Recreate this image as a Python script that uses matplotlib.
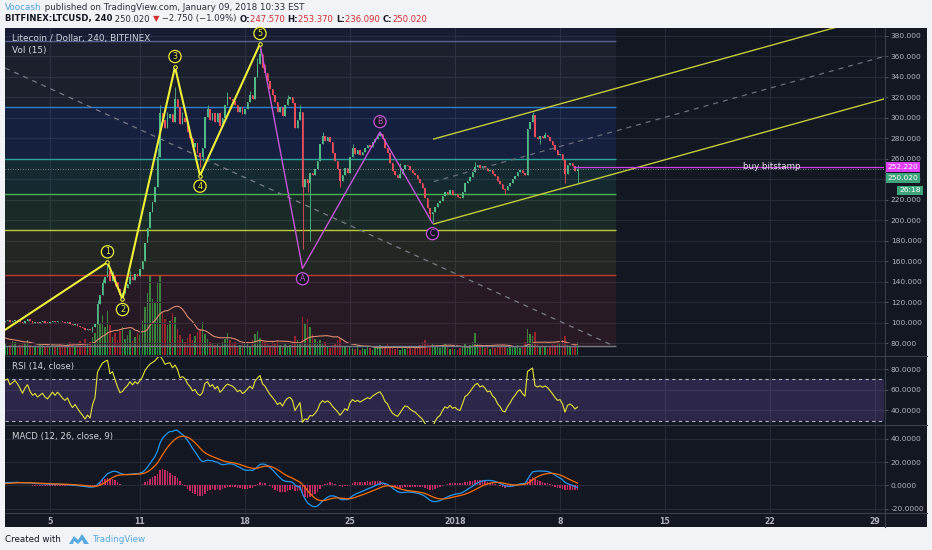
import numpy as np
import pandas as pd
import matplotlib
matplotlib.use("Agg")
import matplotlib.pyplot as plt
import matplotlib.dates as mdates
import matplotlib.transforms as mtransforms
from matplotlib.patches import Rectangle, Polygon
from matplotlib.lines import Line2D
from matplotlib.ticker import FixedLocator, FixedFormatter

W, H = 932, 550
BG = "#131722"
GRID = "#262b3a"
SEP = "#3a3e4a"
TXT = "#b2b5be"
UP = "#53b987"
DOWN = "#eb4d5c"
YEL = "#eef03a"
PURP = "#c455d6"

# =========================
# Data (4h candles, BITFINEX:LTCUSD)
# =========================

START = pd.Timestamp("2017-12-02 00:00")

# history before the visible window, only used to warm up the indicators
warmup_close = [
    88.0, 89.0, 87.5, 88.6, 90.2, 89.5,
    90.8, 92.1, 91.4, 93.0, 92.2, 93.8,
    95.1, 94.2, 96.0, 97.5, 96.3, 98.0,
    99.5, 97.2, 93.0, 88.5, 90.4, 92.0,
    90.6, 92.8, 94.0, 93.1, 95.5, 96.2,
    97.0, 98.4, 97.6, 99.1, 100.3, 100.9,
]
warmup_volume = [
    18, 15, 20, 14, 22, 16, 19, 17, 24, 15, 18, 21,
    20, 16, 22, 26, 18, 19, 28, 25, 35, 30, 22, 19,
    17, 20, 15, 18, 22, 16, 14, 18, 15, 19, 17, 13,
]

close_4h = [
    101.5, 102.3, 100.8, 101.9, 103.0, 102.2,   # Dec 2
    101.0, 99.6, 101.8, 103.4, 101.5, 100.2,    # Dec 3
    100.9, 99.8, 100.5, 101.2, 100.1, 99.5,     # Dec 4
    100.6, 101.8, 100.9, 102.0, 101.3, 100.4,   # Dec 5
    99.8, 100.5, 98.9, 97.6, 98.4, 97.2,        # Dec 6
    95.8, 94.6, 92.9, 93.8, 92.5, 96.0,         # Dec 7
    98.5, 118.0, 127.0, 139.0, 145.0, 150.0,    # Dec 8
    141.0, 146.0, 140.0, 133.0, 127.0, 129.0,   # Dec 9
    134.0, 138.0, 145.0, 142.0, 148.0, 146.0,   # Dec 10
    152.0, 160.0, 178.0, 192.0, 208.0, 218.0,   # Dec 11
    232.0, 262.0, 305.0, 298.0, 290.0, 300.0,   # Dec 12
    304.0, 296.0, 318.0, 310.0, 294.0, 300.0,   # Dec 13
    296.0, 286.0, 280.0, 271.0, 275.0, 266.0,   # Dec 14
    262.0, 270.0, 301.0, 308.0, 298.0, 305.0,   # Dec 15
    296.0, 305.0, 292.0, 300.0, 312.0, 320.0,   # Dec 16
    318.0, 316.0, 312.0, 306.0, 310.0, 304.0,   # Dec 17
    308.0, 315.0, 322.0, 318.0, 340.0, 352.0,   # Dec 18
    362.0, 348.0, 344.0, 336.0, 328.0, 322.0,   # Dec 19
    315.0, 306.0, 310.0, 302.0, 312.0, 318.0,   # Dec 20
    320.0, 314.0, 290.0, 298.0, 306.0, 232.0,   # Dec 21
    240.0, 236.0, 246.0, 244.0, 250.0, 258.0,   # Dec 22
    274.0, 282.0, 277.0, 281.0, 276.0, 266.0,   # Dec 23
    258.0, 250.0, 238.0, 244.0, 251.0, 246.0,   # Dec 24
    262.0, 270.0, 265.0, 268.0, 264.0, 267.0,   # Dec 25
    270.0, 273.0, 271.0, 276.0, 279.0, 282.0,   # Dec 26
    284.0, 279.0, 270.0, 266.0, 256.0, 248.0,   # Dec 27
    244.0, 241.0, 245.0, 250.0, 254.0, 253.0,   # Dec 28
    249.0, 246.0, 244.0, 240.0, 236.0, 231.0,   # Dec 29
    222.0, 212.0, 206.0, 208.0, 213.0, 217.0,   # Dec 30
    219.0, 224.0, 228.0, 226.0, 229.0, 225.0,   # Dec 31
    226.0, 223.0, 222.0, 228.0, 236.0, 238.0,   # Jan 1
    242.0, 247.0, 252.0, 254.0, 251.0, 253.0,   # Jan 2
    251.0, 248.0, 249.0, 245.0, 243.0, 238.0,   # Jan 3
    235.0, 230.0, 229.0, 233.0, 236.0, 240.0,   # Jan 4
    243.0, 247.0, 249.0, 246.0, 244.0, 289.0,   # Jan 5
    296.0, 303.0, 281.0, 279.0, 282.0, 280.0,   # Jan 6
    283.0, 281.0, 277.0, 273.0, 268.0, 264.0,   # Jan 7
    265.0, 259.0, 245.0, 254.0, 256.0, 253.0,   # Jan 8
    247.57, 250.02,                             # Jan 9
]

volume_4h = [
    12, 9, 10, 14, 13, 9,
    10, 12, 11, 15, 10, 8,
    9, 8, 11, 10, 8, 11,
    9, 12, 8, 10, 11, 8,
    10, 11, 13, 12, 9, 11,
    14, 12, 16, 11, 13, 18,
    22, 48, 32, 40, 28, 44,
    30, 18, 22, 15, 24, 28,
    16, 20, 25, 14, 18, 22,
    20, 34, 48, 62, 80, 56,
    52, 72, 80, 42, 36, 30,
    34, 42, 38, 26, 20, 16,
    13, 17, 21, 15, 19, 23,
    26, 33, 21, 16, 13, 11,
    10, 12, 9, 13, 16, 22,
    15, 11, 13, 9, 10, 12,
    11, 13, 9, 15, 21, 24,
    17, 15, 13, 11, 10, 13,
    11, 15, 10, 9, 12, 8,
    10, 13, 19, 15, 11, 38,
    31, 36, 28, 21, 16, 13,
    15, 11, 13, 9, 7, 10,
    12, 15, 17, 9, 8, 7,
    9, 7, 6, 8, 5, 7,
    6, 8, 7, 5, 7, 9,
    10, 8, 9, 11, 7, 8,
    6, 7, 5, 8, 6, 7,
    7, 6, 9, 8, 10, 13,
    15, 12, 10, 11, 9, 8,
    7, 10, 11, 8, 6, 7,
    6, 5, 7, 9, 11, 8,
    10, 13, 22, 12, 9, 8,
    7, 8, 6, 9, 7, 10,
    9, 11, 8, 7, 10, 9,
    8, 10, 7, 9, 13, 26,
    21, 19, 23, 11, 9, 10,
    8, 7, 9, 11, 10, 13,
    11, 15, 19, 10, 9, 8,
    12, 13,
]

# notable wicks beyond the candle bodies (candle index -> price)
wick_hi = {37: 122, 39: 143, 41: 157, 43: 150, 50: 150, 61: 270, 62: 312,
           65: 306, 68: 330, 71: 306, 81: 312, 89: 325, 98: 326, 101: 358,
           102: 368, 104: 352, 113: 322, 118: 312, 127: 286, 139: 274,
           150: 286, 158: 256, 188: 257, 211: 306, 216: 286, 229: 253.37}
wick_lo = {35: 91, 44: 136, 47: 124, 57: 185, 78: 252, 79: 258, 119: 172,
           121: 228, 122: 180, 134: 232, 170: 200, 171: 198, 200: 226,
           214: 274, 224: 236, 229: 236.09}

# drawings
wave_idx = [0, 41, 47, 68, 78, 102]
wave_px = [93, 159, 123, 349.5, 243.4, 372]
wave_lbl = ["", "1", "2", "3", "4", "5"]
abc_idx = [102, 119, 150, 171]
abc_px = [372, 153, 286, 197]
abc_lbl = ["", "A", "B", "C"]

fib_levels = [400.0, 374.5, 310.4, 260.0, 225.3, 190.1, 146.8, 77.4]
fib_line_colors = [None, "#56628f", "#2f7ec9", "#2aa39a", "#4caf50", "#bfc93a", "#c0392b", "#787b86"]
fib_band_colors = ["#3a46a8", "#5a6478", "#2962ff", "#26a69a", "#4caf50", "#8a9a30", "#b03040"]
fib_end = "2018-01-11 17:30"

trend_t = ["2017-12-02 00:00", "2018-01-11 16:00"]
trend_px = [348.5, 76.8]

chan_t = ["2017-12-30 14:00", "2018-01-29 14:00"]
chan_upper = [279.2, 401.1]
chan_lower = [196.3, 318.2]

buy_price = 252.22
buy_start = "2018-01-08 21:00"
buy_text_t = "2018-01-22 03:00"
last_price = 250.02

xtick_dates = ["2017-12-05", "2017-12-11", "2017-12-18", "2017-12-25", "2018-01-01",
               "2018-01-08", "2018-01-15", "2018-01-22", "2018-01-29"]
xtick_labels = ["5", "11", "18", "25", "2018", "8", "15", "22", "29"]
x_left = "2017-12-02 00:00"
x_right = "2018-01-29 14:24"


# =========================
# Series and indicators
# =========================

all_close = pd.Series(warmup_close + close_4h, dtype=float)
all_vol = pd.Series(warmup_volume + volume_4h, dtype=float)
n_warm = len(warmup_close)
n_all = len(all_close)

times = START + pd.to_timedelta((np.arange(n_all) - n_warm) * 4, unit="h")
xs = mdates.date2num(times)

d = all_close.diff()
gain = d.clip(lower=0).ewm(alpha=1 / 14, adjust=False).mean()
loss = (-d.clip(upper=0)).ewm(alpha=1 / 14, adjust=False).mean()
rsi = 100 - 100 / (1 + gain / loss)

macd = all_close.ewm(span=12, adjust=False).mean() - all_close.ewm(span=26, adjust=False).mean()
signal = macd.ewm(span=9, adjust=False).mean()
hist = macd - signal
vol_ma = all_vol.rolling(15).mean()

c = np.array(close_4h, dtype=float)
o = all_close.shift(1).to_numpy()[n_warm:]
hi = np.maximum(o, c)
lo = np.minimum(o, c)
for k, v in wick_hi.items():
    hi[k] = v
for k, v in wick_lo.items():
    lo[k] = v
xv = xs[n_warm:]
is_up = c >= o


def T(s):
    return mdates.date2num(pd.Timestamp(s))


def cidx(k):
    return mdates.date2num(START + pd.Timedelta(hours=4 * k))


# =========================
# Figure
# =========================

fig = plt.figure(figsize=(W / 100, H / 100), dpi=100, facecolor="#f1f3f6")


def px_box(x0, y0, x1, y1):
    return [x0 / W, 1 - y1 / H, (x1 - x0) / W, (y1 - y0) / H]


def fig_line(x0, y0, x1, y1, color=SEP, lw=0.8):
    fig.add_artist(Line2D([x0 / W, x1 / W], [1 - y0 / H, 1 - y1 / H],
                          transform=fig.transFigure, color=color, lw=lw, zorder=5))


fig.patches.append(Rectangle((5 / W, 1 - 527 / H), 922 / W, 499 / H,
                             transform=fig.transFigure, fc=BG, ec="none", zorder=-1))

ax = fig.add_axes(px_box(5, 28, 884, 355), facecolor=BG)
ax_rsi = fig.add_axes(px_box(5, 356, 884, 424), facecolor=BG)
ax_macd = fig.add_axes(px_box(5, 425, 884, 512), facecolor=BG)

# volume overlay on the price pane
ax_vol = ax.twinx()
ax_vol.set_ylim(0, max(volume_4h) * 327 / 80)
ax_vol.axis("off")
ax.set_zorder(ax_vol.get_zorder() + 1)
ax.patch.set_visible(False)

for a in (ax, ax_rsi, ax_macd):
    a.set_xlim(T(x_left), T(x_right))
    for s in a.spines.values():
        s.set_visible(False)
    a.yaxis.tick_right()
    a.yaxis.set_label_position("right")
    a.tick_params(axis="y", colors="#5d606b", labelcolor=TXT, labelsize=5.4,
                  length=3, width=0.6, pad=2)
    a.tick_params(axis="x", length=0, labelbottom=False)
    a.xaxis.set_major_locator(FixedLocator([T(s) for s in xtick_dates]))
    a.xaxis.set_major_formatter(FixedFormatter(xtick_labels))
    a.set_axisbelow(True)
    a.grid(True, color=GRID, lw=0.8)

ax_vol.set_xlim(T(x_left), T(x_right))
ax_vol.patch.set_visible(True)
ax_vol.patch.set_facecolor(BG)

# main pane
ax.set_ylim(68.5, 387.5)
ax.set_yticks(np.arange(80, 381, 20))
ax.set_yticklabels([f"{v:.3f}" for v in np.arange(80, 381, 20)])

fx0, fx1 = T(x_left) - 1, T(fib_end)
for i in range(len(fib_band_colors)):
    ax.fill_between([fx0, fx1], fib_levels[i + 1], fib_levels[i],
                    color=fib_band_colors[i], alpha=0.13, lw=0, zorder=1)
for lvl, col in zip(fib_levels[1:], fib_line_colors[1:]):
    ax.hlines(lvl, fx0, fx1, color=col, lw=1.0, zorder=1.5)

ax.plot([T(s) for s in trend_t], trend_px, color="#787b86", lw=0.9,
        ls=(0, (4, 4)), zorder=2)

vol_col = np.where(is_up, "#2f9e44", "#a8262e")
ax_vol.bar(xv, volume_4h, width=0.1, color=vol_col, alpha=0.9, lw=0)
ax_vol.plot(xs[n_warm:], vol_ma.to_numpy()[n_warm:], color="#e29a78", lw=0.8)

# candles
cols = np.where(is_up, UP, DOWN)
ax.vlines(xv, lo, hi, colors=cols, lw=0.6, zorder=3)
ax.bar(xv, np.maximum(np.abs(c - o), 0.8), bottom=np.minimum(o, c), width=0.125,
       color=cols, lw=0, zorder=3)

# elliott waves
wx = [cidx(k) for k in wave_idx]
ax.plot(wx, wave_px, color=YEL, lw=1.5, zorder=5)
ax.plot(wx[1:], wave_px[1:], ls="none", marker="o", ms=2.5, mfc=BG, mec=YEL, mew=0.8, zorder=6)
for i in range(1, len(wx)):
    peak = wave_px[i] > wave_px[i - 1]
    ax.annotate(wave_lbl[i], xy=(wx[i], wave_px[i]), xytext=(0, 7.5 if peak else -7.5),
                textcoords="offset points", ha="center", va="center", fontsize=5.8,
                color=YEL, zorder=7,
                bbox=dict(boxstyle="circle,pad=0.2", fc=BG, ec=YEL, lw=0.9))

abc_x = [cidx(k) for k in abc_idx]
ax.plot(abc_x, abc_px, color=PURP, lw=1.0, zorder=5)
for i in range(1, len(abc_x)):
    peak = abc_px[i] > abc_px[i - 1]
    ax.annotate(abc_lbl[i], xy=(abc_x[i], abc_px[i]), xytext=(0, 7.5 if peak else -7.5),
                textcoords="offset points", ha="center", va="center", fontsize=5.6,
                color=PURP, zorder=7,
                bbox=dict(boxstyle="circle,pad=0.2", fc=BG, ec=PURP, lw=0.9))

# parallel channel
ct = [T(s) for s in chan_t]
ax.plot(ct, chan_upper, color="#c3cc3a", lw=1.0, zorder=4)
ax.plot(ct, chan_lower, color="#c3cc3a", lw=1.0, zorder=4)
ax.plot(ct, [(u + l) / 2 for u, l in zip(chan_upper, chan_lower)], color="#6a6e7c",
        lw=0.9, ls=(0, (4, 4)), zorder=4)

# buy bitstamp ray, last price line
ax.hlines(buy_price, T(buy_start), T(x_right), color="#d040e8", lw=0.9, zorder=4)
ax.axhline(last_price, color="#9aa0ad", lw=0.6, ls=(0, (1, 2)), zorder=4)
ax.text(T(buy_text_t), buy_price, "buy bitstamp", color="#e8e8ee", fontsize=6.3,
        ha="center", va="center", zorder=6)

right = mtransforms.blended_transform_factory(ax.transAxes, ax.transData)
ax.annotate(f"{buy_price:.3f}", xy=(1, buy_price), xycoords=right, xytext=(2.5, 0),
            textcoords="offset points", va="center", ha="left", fontsize=5.4,
            color="white", annotation_clip=False,
            bbox=dict(boxstyle="square,pad=0.25", fc="#e040fb", ec="none"))
ax.annotate(f"{last_price:.3f}", xy=(1, last_price), xycoords=right, xytext=(2.5, -6.5),
            textcoords="offset points", va="center", ha="left", fontsize=5.4,
            color="white", annotation_clip=False,
            bbox=dict(boxstyle="square,pad=0.25", fc="#3fa57c", ec="none"))
ax.annotate("26:18", xy=(1, last_price), xycoords=right, xytext=(11, -15.5),
            textcoords="offset points", va="center", ha="left", fontsize=5.4,
            color="white", annotation_clip=False,
            bbox=dict(boxstyle="square,pad=0.25", fc="#3fa57c", ec="none"))

ax.text(7 / 879, 1 - 11 / 327, "Litecoin / Dollar, 240, BITFINEX", transform=ax.transAxes,
        color="#d1d4dc", fontsize=6.4, va="center", ha="left", zorder=8)
ax.text(7 / 879, 1 - 22 / 327, "Vol (15)", transform=ax.transAxes,
        color="#d1d4dc", fontsize=6.4, va="center", ha="left", zorder=8)

# RSI pane
ax_rsi.set_ylim(26.9, 92.6)
ax_rsi.set_yticks([40, 60, 80])
ax_rsi.set_yticklabels(["40.0000", "60.0000", "80.0000"])
ax_rsi.axhspan(30, 70, color="#7e57c2", alpha=0.24, lw=0, zorder=1)
for lvl in (30, 70):
    ax_rsi.axhline(lvl, color="#b2b5be", lw=0.8, ls=(0, (3, 3)), zorder=2)
ax_rsi.plot(xs, rsi, color="#e3e33b", lw=0.8, zorder=3)
ax_rsi.text(7 / 879, 1 - 10 / 68, "RSI (14, close)", transform=ax_rsi.transAxes,
            color="#d1d4dc", fontsize=6.2, va="center", ha="left")

# MACD pane
ax_macd.set_ylim(-22.9, 51.8)
ax_macd.set_yticks([-20, 0, 20, 40])
ax_macd.set_yticklabels(["-20.0000", "0.0000", "20.0000", "40.0000"])
ax_macd.bar(xs, hist, width=0.09, color="#e0306e", alpha=0.85, lw=0, zorder=2)
ax_macd.plot(xs, macd, color="#2196f3", lw=0.9, zorder=3)
ax_macd.plot(xs, signal, color="#ff6d00", lw=0.9, zorder=3)
ax_macd.text(7 / 879, 1 - 11 / 87, "MACD (12, 26, close, 9)", transform=ax_macd.transAxes,
             color="#d1d4dc", fontsize=6.2, va="center", ha="left")
ax_macd.tick_params(axis="x", labelbottom=True, labelcolor=TXT, labelsize=5.6, pad=3.5)
for lab in ax_macd.get_xticklabels():
    lab.set_fontweight("bold")

# pane separators
fig_line(5, 355.5, 927, 355.5)
fig_line(5, 424.5, 927, 424.5)
fig_line(5, 512.5, 927, 512.5)
fig_line(884.5, 28, 884.5, 527)


# =========================
# Header and footer
# =========================

def chain(parts, x, y, size):
    prev = fig.text(x / W, 1 - y / H, parts[0][0], color=parts[0][1], fontsize=size,
                    fontweight=parts[0][2], va="center", ha="left")
    for s, col, wt in parts[1:]:
        prev = ax.annotate(s, xy=(1, 0.5), xycoords=prev, xytext=(0, 0),
                           textcoords="offset points", va="center", ha="left",
                           fontsize=size, color=col, fontweight=wt,
                           annotation_clip=False)


chain([("Voocash", "#4aa3df", "normal"),
       (" published on TradingView.com, January 09, 2018 10:33 EST", "#2a2e39", "normal")],
      5, 7.5, 6.3)
RED = "#d32f2f"
chain([("BITFINEX:LTCUSD, 240", "#131722", "bold"),
       (" 250.020 ", "#2a2e39", "normal"),
       ("▼", RED, "normal"),
       (" \u22122.750 (\u22121.09%) ", "#2a2e39", "normal"),
       ("O:", "#131722", "bold"), ("247.570 ", RED, "normal"),
       ("H:", "#131722", "bold"), ("253.370 ", RED, "normal"),
       ("L:", "#131722", "bold"), ("236.090 ", RED, "normal"),
       ("C:", "#131722", "bold"), ("250.020", RED, "normal")],
      5, 19, 6.1)

fig.text(5 / W, 1 - 539 / H, "Created with", color="#131722", fontsize=6.3,
         va="center", ha="left")
logo = [(69, 544), (74, 536), (78, 540), (82, 534), (89, 544), (84, 544),
        (82, 540), (78, 544), (74, 541), (73, 544)]
fig.patches.append(Polygon([(px / W, 1 - py / H) for px, py in logo], closed=True,
                           transform=fig.transFigure, fc="#5aa9e0", ec="none"))
fig.text(92 / W, 1 - 539 / H, "TradingView", color="#5aa9e0", fontsize=6.3,
         va="center", ha="left")

fig.savefig("out.png", dpi=100, facecolor=fig.get_facecolor())
